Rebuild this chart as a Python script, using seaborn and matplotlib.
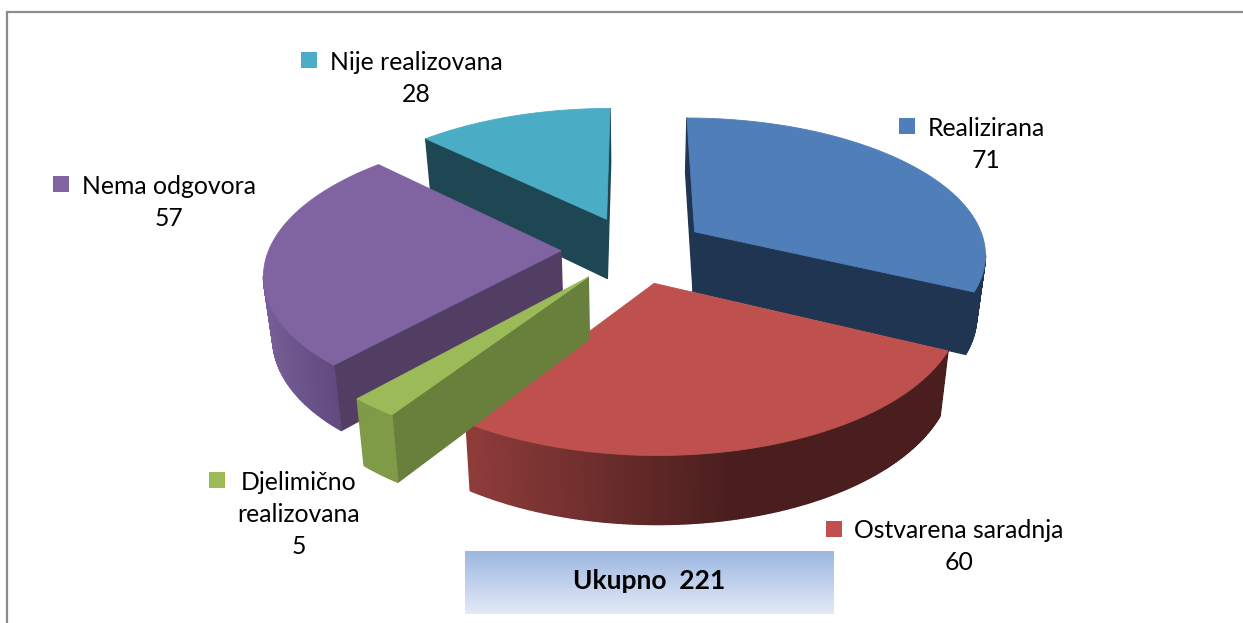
import numpy as np
import matplotlib
matplotlib.use("Agg")
import matplotlib.pyplot as plt
from matplotlib.patches import Polygon, Rectangle
import seaborn as sns

# data, in drawing order of the pie (clockwise from the top)
labels = ["Realizirana", "Ostvarena saradnja", "Djelimično\nrealizovana", "Nema odgovora", "Nije realizovana"]
values = [71, 60, 5, 57, 28]
total_text = "Ukupno  221"

# colours
top_colors = ["#4F7EB8", "#BE504E", "#9BBB59", "#8064A2", "#4BACC6"]
wall_colors = [("#1F3552", "#1F3552"), ("#8E3C3A", "#4A1E1E"), ("#7F9B48", "#7F9B48"),
               ("#765E96", "#604A7E"), ("#1F4753", "#1F4753")]
side_colors = ["#1F3552", "#4A1E1E", "#68803C", "#523E62", "#1F4753"]

# legend keys and label centres in pixels
key_xy = [(899, 118), (826, 521), (209, 472), (53, 176), (301, 52)]
text_xy = [(986, 128), (959, 531), (299, 483), (169, 186), (416, 62)]
line_gap = 32

# perspective of the pie
CX, CY = 634, 249.5
RX, RY = 292, 135.5
PERSP = 0.148
DEPTH = 60.5
DEPTH_PERSP = 0.1
EXPLODE = 0.25
DRAW_ORDER = [4, 0, 3, 1, 2]


def project(X, Y, bottom=False):
    w = 1 + PERSP * Y
    shrink = 0.975 if bottom else 1.0
    x = CX + RX * X / w * shrink
    y = CY - RY * Y / w
    if bottom:
        y = y + DEPTH / (1 + DEPTH_PERSP * Y)
    return x, y


sns.set_theme(style="white")
plt.rcParams["font.family"] = ["Lato", "DejaVu Sans"]

fig = plt.figure(figsize=(12.43, 6.23), dpi=100)
ax = fig.add_axes([0, 0, 1, 1])
ax.set_xlim(0, 1243)
ax.set_ylim(623, 0)
ax.axis("off")

# chart frame, only top and left are in the crop
ax.plot([7.5, 7.5, 1243], [623, 11.5, 11.5], color="#8C8C8C", lw=1.6, solid_joinstyle="miter")

fracs = np.array(values) / sum(values)
ends = np.cumsum(fracs) * 2 * np.pi
starts = ends - fracs * 2 * np.pi

for i in DRAW_ORDER:
    a0, a1 = starts[i], ends[i]
    mid = (a0 + a1) / 2
    ex, ey = EXPLODE * np.sin(mid), EXPLODE * np.cos(mid)
    ang = np.linspace(a0, a1, max(int(np.degrees(a1 - a0)) * 2, 6))
    Xs = np.r_[ex, ex + np.sin(ang)]
    Ys = np.r_[ey, ey + np.cos(ang)]
    tx, ty = project(Xs, Ys)
    bx, by = project(Xs, Ys, bottom=True)
    n = len(tx)

    # outer wall range for the shading
    arc_vis = [j for j in range(1, n - 1) if tx[j + 1] < tx[j]]
    shades = sns.blend_palette(wall_colors[i], 128)
    if arc_vis:
        lo, hi = tx[arc_vis].min(), tx[arc_vis].max()
        if i == 1:
            hi = lo + (hi - lo) * 0.55  # red goes dark well before its right end
    for j in range(n):
        k = (j + 1) % n
        if tx[k] >= tx[j]:
            continue
        radial = j == 0 or k == 0
        if radial:
            col = side_colors[i]
        else:
            t = np.clip((tx[j] - lo) / max(hi - lo, 1), 0, 1)
            col = shades[int(t * 127)]
        ax.add_patch(Polygon([(tx[j], ty[j]), (tx[k], ty[k]), (bx[k], by[k]), (bx[j], by[j])],
                             closed=True, fc=col, ec=col, lw=1.0, joinstyle="round"))
    ax.add_patch(Polygon(np.c_[tx, ty], closed=True, fc=top_colors[i], ec=top_colors[i], lw=0.6))

# legend-like data labels
for i in range(len(labels)):
    kx, ky = key_xy[i]
    ax.add_patch(Rectangle((kx, ky), 16, 16, fc=top_colors[i], ec="none"))
    lines = labels[i].split("\n") + [str(values[i])]
    for n, line in enumerate(lines):
        ax.text(text_xy[i][0], text_xy[i][1] + n * line_gap, line, ha="center", va="center",
                fontsize=17.8, color="black")

# total box
box_cmap = sns.blend_palette(["#9DB7E2", "#E3EAF6"], as_cmap=True)
ax.imshow(np.linspace(0, 1, 64).reshape(-1, 1), extent=(465, 834, 614, 551), cmap=box_cmap,
          aspect="auto", zorder=3)
ax.set_xlim(0, 1243)
ax.set_ylim(623, 0)
ax.text(649, 581, total_text, ha="center", va="center", fontsize=19, fontweight="bold",
        color="black", zorder=4)

fig.savefig("out.png", dpi=100)
